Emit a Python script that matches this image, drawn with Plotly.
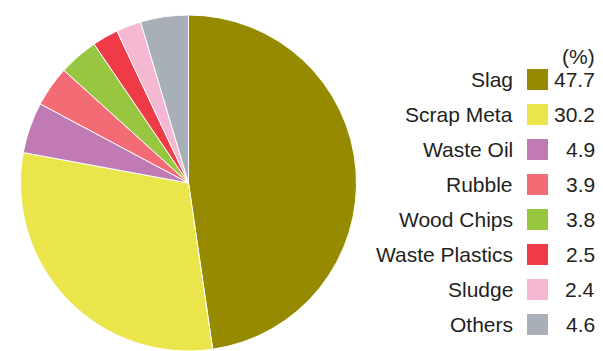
import plotly.graph_objects as go

# Composition of industrial waste (%)
categories = ["Slag", "Scrap Meta", "Waste Oil", "Rubble", "Wood Chips",
              "Waste Plastics", "Sludge", "Others"]
shares = [47.7, 30.2, 4.9, 3.9, 3.8, 2.5, 2.4, 4.6]
colors = ["#968b00", "#e9e54a", "#c07bb5", "#f26b75", "#97c740",
          "#ef3a48", "#f5b8d3", "#a8afb6"]
unit_label = "(%)"

W, H = 603, 351
FONT = "Liberation Sans, Arial, sans-serif"
TEXT_COLOR = "#231f20"

# pie geometry in pixels
cx, r = 188.5, 168.0

fig = go.Figure(
    go.Pie(
        labels=categories,
        values=shares,
        sort=False,
        direction="clockwise",
        rotation=0,
        marker=dict(colors=colors, line=dict(color="white", width=1)),
        textinfo="none",
        hoverinfo="label+value",
        showlegend=False,
        domain=dict(x=[(cx - r) / W, (cx + r) / W], y=[0, 2 * r / H]),
    )
)

# custom legend: label | swatch | value
row0, row_step = 79.5, 35.0
label_right, sw_left, sw_size, value_right = 515, 527, 21, 597

annotations = [
    dict(text=unit_label, x=value_right / W, y=1 - 56 / H, xref="paper", yref="paper",
         xanchor="right", yanchor="middle", showarrow=False,
         font=dict(family=FONT, size=21, color=TEXT_COLOR))
]
shapes = []
for i, (name, val, col) in enumerate(zip(categories, shares, colors)):
    yc = row0 + row_step * i
    annotations.append(dict(text=name, x=label_right / W, y=1 - yc / H,
                            xref="paper", yref="paper", xanchor="right", yanchor="middle",
                            showarrow=False, font=dict(family=FONT, size=21, color=TEXT_COLOR)))
    annotations.append(dict(text=f"{val:.1f}", x=value_right / W, y=1 - yc / H,
                            xref="paper", yref="paper", xanchor="right", yanchor="middle",
                            showarrow=False, font=dict(family=FONT, size=21, color=TEXT_COLOR)))
    shapes.append(dict(type="rect", xref="paper", yref="paper",
                       x0=sw_left / W, x1=(sw_left + sw_size) / W,
                       y0=1 - (yc + sw_size / 2) / H, y1=1 - (yc - sw_size / 2) / H,
                       fillcolor=col, line=dict(width=0)))

fig.update_layout(
    width=W, height=H,
    margin=dict(l=0, r=0, t=0, b=0),
    paper_bgcolor="white",
    plot_bgcolor="white",
    annotations=annotations,
    shapes=shapes,
)

fig.write_html("out.html")
